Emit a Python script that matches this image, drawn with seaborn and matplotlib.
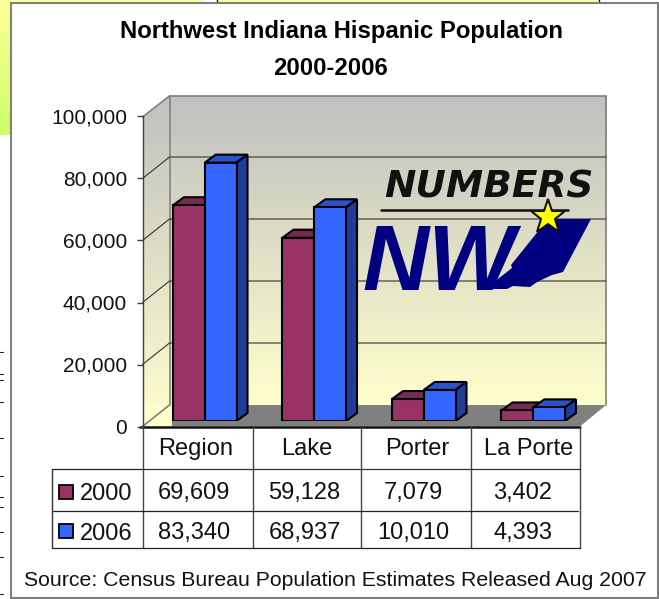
#!/usr/bin/env python3
# Northwest Indiana Hispanic population, 3D look column chart with data table
import numpy as np
import pandas as pd
import seaborn as sns
from matplotlib import pyplot as plt
from matplotlib.colors import LinearSegmentedColormap
from matplotlib.patches import Polygon, Rectangle

counties = ['Region', 'Lake', 'Porter', 'La Porte']
years = ['2000', '2006']
pop_2000 = [69609, 59128, 7079, 3402]
pop_2006 = [83340, 68937, 10010, 4393]
y_ticks = [0, 20000, 40000, 60000, 80000, 100000]

title_lines = ['Northwest Indiana Hispanic Population', '2000-2006']
source = 'Source: Census Bureau Population Estimates Released Aug 2007'

front_colors = {'2000': '#993366', '2006': '#3366FF'}
side_colors = {'2000': '#5C1F3D', '2006': '#1F3D99'}
top_colors = {'2000': '#7A2952', '2006': '#2952CC'}

W, H = 659, 599
sns.set_theme(style='white', rc={'font.family': ['Liberation Sans', 'DejaVu Sans']})

df = pd.DataFrame({
    'county': counties * 2,
    'year': [years[0]] * 4 + [years[1]] * 4,
    'population': pop_2000 + pop_2006,
})

fig = plt.figure(figsize=(W / 100, H / 100), dpi=100)


def px_axes(left, top, right, bottom, **kw):
    # axes placed by picture pixels, y counted from the top
    return fig.add_axes([left / W, 1 - bottom / H, (right - left) / W, (bottom - top) / H], **kw)


# page and frame, in picture pixels
bg = px_axes(0, 0, W, H)
bg.set_xlim(0, W)
bg.set_ylim(H, 0)
bg.axis('off')

page = LinearSegmentedColormap.from_list('page', ['#FFFF99', '#CCFF66'])
bg.imshow(np.linspace(0, 1, 64)[:, None], cmap=page, extent=(0, 11, 135, 0), aspect='auto', zorder=1)
bg.add_patch(Rectangle((11, 0), 190, 3, color='#FFFF99', zorder=1))
bg.add_patch(Rectangle((217, 0), 381, 3, color='#FFFF99', zorder=1))
bg.plot([216.5, 216.5], [0, 3], color='black', lw=1, zorder=1)
bg.plot([598.5, 598.5], [0, 3], color='black', lw=1, zorder=1)
# bits of the page behind the chart
for my in [352, 374, 380, 402, 438, 476, 497, 507, 532, 557, 594]:
    bg.plot([0, 3], [my, my], color='#222222', lw=0.8, zorder=1)
bg.add_patch(Rectangle((11, 3), 647, 594.5, fc='white', ec='#808080', lw=1.5, zorder=2))

# plot walls
wall = LinearSegmentedColormap.from_list('wall', ['#C0C0C0', '#FFFFCC'])
grad = np.linspace(0, 1, 128)[:, None]
bg.imshow(grad, cmap=wall, extent=(169.5, 606, 405, 96), aspect='auto', zorder=3)
side = bg.imshow(grad, cmap=wall, extent=(142.5, 169.5, 426.5, 96), aspect='auto', zorder=3)
side.set_clip_path(Polygon([(142.5, 117), (169.5, 96), (169.5, 405), (142.5, 426.5)], transform=bg.transData))
bg.set_xlim(0, W)
bg.set_ylim(H, 0)
bg.add_patch(Polygon([(142.5, 426.5), (169.5, 405), (606, 405), (580, 426.5)], fc='#808080', ec='none', zorder=3))
bg.add_patch(Rectangle((142.5, 405), 29.5, 21.5, fc='#FFFFCC', ec='none', zorder=3.1))
bg.plot([169.5, 606, 606], [96, 96, 405], color='#808080', lw=1.2, zorder=4)
bg.plot([169.5, 169.5], [96, 405], color='#808080', lw=1.2, zorder=4)
bg.plot([142.5, 169.5], [426.5, 405], color='#808080', lw=1.2, zorder=4)
bg.plot([142.5, 169.5], [117, 96], color='#808080', lw=1.2, zorder=4)

# bars, the library does the scale
ax = px_axes(150, 111, 588, 421)
ax.patch.set_alpha(0)
sns.barplot(data=df, x='county', y='population', hue='year', order=counties, hue_order=years,
            palette=front_colors, width=0.58, gap=0, saturation=1, edgecolor='black',
            linewidth=1.5, legend=False, dodge=True, ax=ax, zorder=6)
ax.set_xlim(-0.5, 3.5)
ax.set_ylim(0, 100000)
ax.axis('off')
ax.set_zorder(5)
fig.canvas.draw()

# back wall gridlines follow the bar scale
for t in y_ticks[1:-1]:
    py = H - ax.transData.transform((0, t))[1]
    bg.plot([142.5, 169.5, 606], [py + 5.5, py - 16, py - 16], color='#333333', lw=0.8, zorder=4)

# depth faces for every bar, offset in pixels
DX, DY = 11, 8
for i, bar in enumerate(list(ax.patches)[:8]):
    year = years[i // 4]
    x0, w, h = bar.get_x(), bar.get_width(), bar.get_height()
    z = 5 + (i // 4) * 2
    bar.set_zorder(z + 1)
    p = ax.transData.transform([(x0, h), (x0 + w, h), (x0 + w, 0)])
    q = p + [DX, DY]
    ax.add_artist(Polygon([p[0], p[1], q[1], q[0]], transform=None, fc=top_colors[year], ec='black', lw=1.5, zorder=z))
    ax.add_artist(Polygon([p[1], p[2], q[2], q[1]], transform=None, fc=side_colors[year], ec='black', lw=1.5, zorder=z))

# front axis with the labels
front = px_axes(142.5, 116.5, 580, 426.5)
front.patch.set_alpha(0)
front.set_ylim(0, 100000)
front.set_xlim(0, 1)
front.set_yticks(y_ticks)
front.set_yticklabels([f'{t:,}' for t in y_ticks], fontsize=15, color='#111111')
front.set_xticks([])
sns.despine(ax=front, top=True, right=True, bottom=True)
front.spines['left'].set_color('#404040')
front.spines['left'].set_linewidth(1)
front.tick_params(axis='y', length=4.5, width=1, color='#404040', pad=6.5, left=True)
front.set_zorder(4)

# title and source
bg.text(342, 38, title_lines[0], ha='center', va='baseline', fontsize=17.2, fontweight='bold', color='black', zorder=8)
bg.text(330, 75, title_lines[1], ha='center', va='baseline', fontsize=17.2, fontweight='bold', color='black', zorder=8)
bg.text(335.5, 586, source, ha='center', va='baseline', fontsize=15.3, color='#111111', zorder=8)

# data table under the plot
col_x = [142.5, 253, 361, 471, 580]
bg.plot([140, 580], [427, 427], color='#111111', lw=1.8, zorder=7)
for x in col_x:
    bg.plot([x, x], [427, 548], color='#444444', lw=1, zorder=7)
bg.plot([51.5, 51.5], [468.5, 548], color='#333333', lw=1, zorder=7)
bg.plot([142.5, 580], [468.5, 468.5], color='#333333', lw=0.9, zorder=7)
bg.plot([51.5, 142.5], [468.5, 468.5], color='#222222', lw=0.9, zorder=7)
bg.plot([53, 578], [510.5, 510.5], color='#222222', lw=0.9, zorder=7)
bg.plot([51.5, 580], [548, 548], color='#222222', lw=0.9, zorder=7)
header_x = [196, 307, 417, 529]
value_x = [194, 304.5, 413.5, 523]
for name, hx, vx, v0, v1 in zip(counties, header_x, value_x, pop_2000, pop_2006):
    bg.text(hx, 455, name, ha='center', va='baseline', fontsize=17, color='#111111', zorder=8)
    bg.text(vx, 499, f'{v0:,}', ha='center', va='baseline', fontsize=17, color='#111111', zorder=8)
    bg.text(vx, 539, f'{v1:,}', ha='center', va='baseline', fontsize=17, color='#111111', zorder=8)
for year, y, base in zip(years, [492, 531], [500, 539.5]):
    bg.add_patch(Rectangle((59, y - 7), 14, 14, fc=front_colors[year], ec='black', lw=1.3, zorder=8))
    bg.text(80, base, year, ha='left', va='baseline', fontsize=17, color='#111111', zorder=8)

# logo
navy = '#000080'
bg.text(384, 197, 'NUMBERS', ha='left', va='baseline', fontsize=27, fontweight='bold', style='italic',
        family='DejaVu Sans', color='#111111', zorder=4.5)
bg.plot([381, 568], [209.5, 209.5], color='#111111', lw=1.8, zorder=4.5)
bg.text(362, 290, 'NW', ha='left', va='baseline', fontsize=66, fontweight='bold', style='italic', color=navy, zorder=4.5)
indiana = [(548, 219), (591, 219), (563, 272), (552, 275), (537, 282), (530, 287), (513, 286),
           (507, 289), (489, 289), (490, 285), (512, 268), (511, 265)]
bg.add_patch(Polygon(indiana, fc=navy, ec='none', zorder=4.5))
bg.plot([548], [217], marker='*', ms=26, mfc='#FFFF00', mec='#111111', mew=1.5, zorder=4.6)

fig.savefig('out.png', dpi=100)
